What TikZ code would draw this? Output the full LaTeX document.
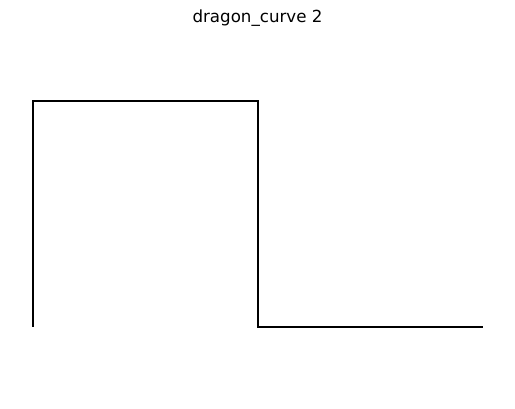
\documentclass[tikz,border=0pt]{standalone}
\usepackage{fontspec}
\setmainfont{DejaVu Sans}
\begin{document}
\begin{tikzpicture}[x=1pt,y=-1pt,
  curve/.style={line width=2pt,line join=miter,line cap=butt},
  titletext/.style={font=\fontsize{16.67}{20}\selectfont,anchor=base,inner sep=0pt}]
\useasboundingbox (0,0) rectangle (515,409);
\node[titletext] (title) at (257.5,22.5) {dragon\_curve 2};
\coordinate (p0) at (33,327);
\coordinate (p1) at (33,101);
\coordinate (p2) at (258,101);
\coordinate (p3) at (258,327);
\coordinate (p4) at (483,327);
\draw[curve] (p0) -- (p1) -- (p2) -- (p3) -- (p4);
\end{tikzpicture}
\end{document}
